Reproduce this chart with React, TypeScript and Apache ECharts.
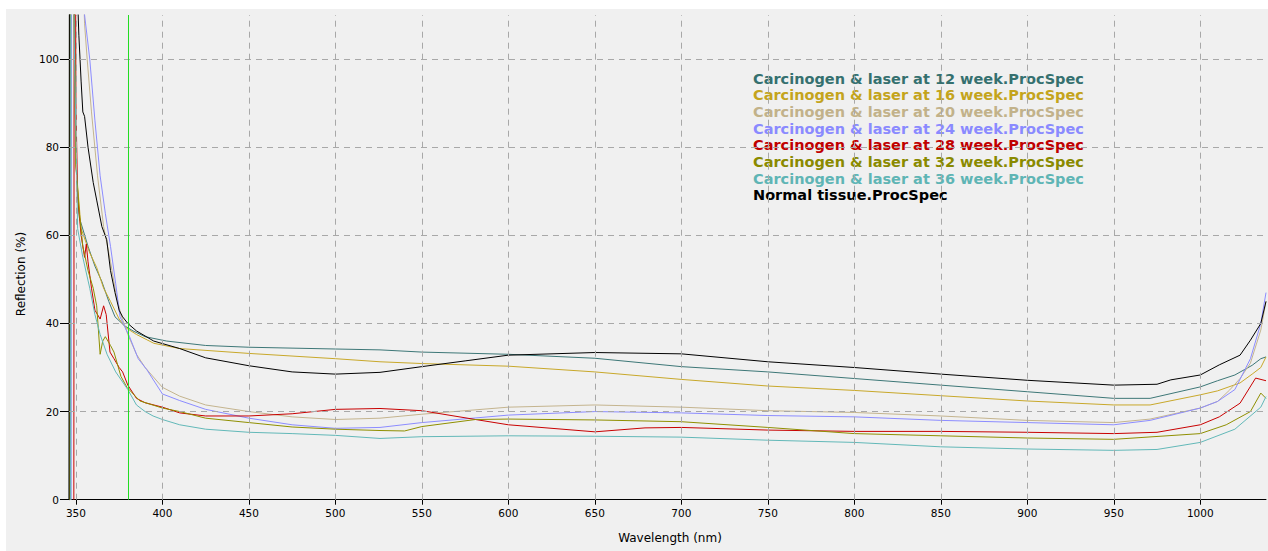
import React, { useEffect, useRef } from "react";
import * as echarts from "echarts";

const seriesNames = [
  "Carcinogen & laser at 12 week.ProcSpec",
  "Carcinogen & laser at 16 week.ProcSpec",
  "Carcinogen & laser at 20 week.ProcSpec",
  "Carcinogen & laser at 24 week.ProcSpec",
  "Carcinogen & laser at 28 week.ProcSpec",
  "Carcinogen & laser at 32 week.ProcSpec",
  "Carcinogen & laser at 36 week.ProcSpec",
  "Normal tissue.ProcSpec",
];
const lineColors = ["#3d7777", "#c8a82a", "#c4b48e", "#8c8cff", "#c80000", "#8f8f00", "#62b8b8", "#000000"];
const legendColors = ["#35706f", "#c4a41c", "#c2b28a", "#8a8aff", "#c00000", "#8a8a00", "#5fb5b5", "#000000"];

const xTicks = [350, 400, 450, 500, 550, 600, 650, 700, 750, 800, 850, 900, 950, 1000];
const yTicks = [0, 20, 40, 60, 80, 100];
const markerWavelength = 380;

const w12 = [[346.2,0],[346.6,220],[349,112],[350,76],[352,64],[357,57.5],[361,53],[365,49.5],[369,45],[372.6,41.5],[378,39.5],[383,38.3],[390,37],[402.5,36],[425,35],[450,34.6],[500,34.2],[525.8,34],[550,33.5],[600,33],[650,32.1],[700,30.2],[750,29],[800,27.5],[850,26],[900,24.5],[950,23],[971,23],[1000,25.6],[1010,27],[1020,28.3],[1030,30.5],[1035,32],[1038,32.4]];
const w16 = [[346.4,0],[346.8,220],[349,115],[350,76],[353,61.5],[358,56],[362,52.7],[366,48],[370,45],[375,41],[379,39],[385,37.5],[395,35.5],[410,34.3],[450,33.2],[500,32],[525.8,31.3],[550,30.9],[600,30.3],[650,29],[700,27.3],[750,25.8],[800,24.8],[850,23.6],[900,22.4],[950,21.5],[971,21.5],[1000,23.8],[1010,24.7],[1023,26.5],[1030,28.5],[1035,30],[1038,32.4]];
const w20 = [[347,0],[347.3,220],[352,150],[355,108],[356.5,100],[359,88],[362.5,73.5],[366,62],[370,54],[373,47],[376,42],[380,37.5],[385,33],[390,30],[400,25.5],[410,23.5],[425,21.5],[450,20],[475,18.8],[500,18.2],[525.8,18.5],[550,19.4],[600,21],[650,21.5],[700,21],[750,20.2],[800,19.8],[850,19],[900,18],[950,17.5],[971,18.3],[1000,20.8],[1010,22.3],[1017,24.9],[1023,27.5],[1029,31],[1035,38.5],[1038,45]];
const w24 = [[347.2,0],[347.5,220],[353,150],[355,110],[358,100],[361,86],[364,73.5],[367,65],[370,57.5],[373,49],[375.5,41.5],[381,37],[386,32],[391,29.5],[400,24],[410,22.5],[425,20.5],[450,18.5],[475,17],[500,16.2],[525.8,16.4],[550,17.5],[600,19.2],[650,20],[700,19.7],[750,19.1],[800,18.8],[850,18],[900,17.5],[950,17],[971,18],[1000,20.8],[1010,22.3],[1020,25],[1029,32],[1035,40],[1038,47]];
const w28 = [[348.8,0],[349.1,220],[350,90],[351,68.7],[353,60],[355,55],[356,58],[357,54],[359,48],[361,43],[364,41],[366,44],[367.5,42],[369.7,33.5],[372,32],[375,30],[377,29],[380,26],[385,23],[390,22],[400,21],[410,19.7],[425,19],[450,19],[475,19.5],[500,20.5],[525.8,20.7],[550,20.2],[581,18.2],[600,17],[650,15.4],[679,16.3],[700,16.4],[750,15.8],[800,15.5],[850,15.5],[900,15.3],[950,15],[975,15.3],[1000,17],[1011,18.8],[1023,21.9],[1032,27.6],[1038,27]];
const w32 = [[346.6,0],[347,220],[349,110],[350,76],[352,65],[354,57.5],[357,52],[360,48],[362,44],[364,33],[365.5,36],[367,37],[370,35],[372,33.5],[376,28],[379.5,25.5],[387,22.4],[400,20.8],[410,20],[425,18.5],[450,17.5],[475,16.5],[500,16],[525.8,15.7],[540,15.6],[550,16.6],[581,18.2],[600,18.3],[650,18.1],[700,17.7],[750,16.4],[800,15],[850,14.5],[900,14],[950,13.7],[1000,15],[1015,17],[1029,20],[1035,24.2],[1038,23]];
const w36 = [[346.9,0],[347.2,220],[349,105],[351,61.5],[354,55],[358,48],[361,42],[364,37.5],[368,33],[373,29],[380,25],[385,21.5],[390,20],[394.6,19],[400,18.2],[410,17],[425,16],[450,15.3],[475,15],[500,14.6],[525.8,13.9],[550,14.3],[600,14.5],[650,14.4],[700,14.2],[750,13.5],[800,13],[850,12],[900,11.5],[950,11.2],[975,11.4],[1000,13],[1020,16],[1035,21],[1038,23.4]];
const normal = [[346,0],[346.4,220],[350,125],[351.7,105.4],[353,95],[354,88],[355,87],[357,80],[360,72],[362,68],[365,62],[367.8,59],[370,52],[372.6,47],[375,43],[377,41.5],[380,40],[385,38.3],[395,36],[410,34.3],[425,32.2],[450,30.4],[475,29],[500,28.5],[525.8,28.9],[550,30.2],[575,31.5],[600,32.8],[650,33.4],[700,33.1],[750,31.3],[800,30],[850,28.5],[900,27.1],[950,26],[975,26.2],[983,27.2],[1000,28.3],[1011,30.6],[1023,32.8],[1029,36.2],[1035,40],[1038,45]];

const allData = [w12, w16, w20, w24, w28, w32, w36, normal];

export default function App() {
  const ref = useRef<HTMLDivElement>(null);
  useEffect(() => {
    if (!ref.current) return;
    const chart = echarts.init(ref.current, null, { renderer: "svg" });
    const font = "DejaVu Sans";
    chart.setOption({
      animation: false,
      backgroundColor: "#f0f0f0",
      textStyle: { fontFamily: font },
      grid: { left: 63, right: 2, top: 6, bottom: 51.3 },
      legend: {
        orient: "vertical",
        left: 737,
        top: 57,
        icon: "none",
        itemWidth: 0,
        itemHeight: 14,
        itemGap: 1.7,
        selectedMode: false,
        textStyle: { fontFamily: font, fontSize: 14.5, fontWeight: "bold" },
        data: seriesNames.map((n, i) => ({ name: n, textStyle: { color: legendColors[i] } })),
      },
      xAxis: {
        type: "value",
        min: 346,
        max: 1038,
        axisLine: { show: true, lineStyle: { color: "#000", width: 1 } },
        axisTick: { show: true, customValues: xTicks, length: 5, lineStyle: { color: "#000" } },
        axisLabel: {
          customValues: xTicks,
          fontSize: 10.5,
          color: "#000",
          margin: 8,
          fontFamily: font,
          formatter: (v: number) => String(v),
        },
        splitLine: { show: false },
      },
      yAxis: {
        type: "value",
        min: 0,
        max: 110,
        axisLine: { show: true, lineStyle: { color: "#000", width: 1 } },
        axisTick: { show: true, customValues: yTicks, length: 9, lineStyle: { color: "#000" } },
        axisLabel: {
          customValues: yTicks,
          fontSize: 10.5,
          color: "#000",
          margin: 10,
          fontFamily: font,
          formatter: (v: number) => String(v),
        },
        splitLine: { show: false },
      },
      graphic: [
        {
          type: "text",
          x: 15,
          y: 265,
          rotation: Math.PI / 2,
          style: {
            text: "Reflection (%)",
            fill: "#000",
            font: `12px "${font}"`,
            textAlign: "center",
            textVerticalAlign: "middle",
            align: "center",
            verticalAlign: "middle",
          },
        },
        {
          type: "text",
          x: 664,
          y: 529,
          style: {
            text: "Wavelength (nm)",
            fill: "#000",
            font: `12px "${font}"`,
            textAlign: "center",
            textVerticalAlign: "middle",
            align: "center",
            verticalAlign: "middle",
          },
        },
      ],
      series: [
        {
          name: "__grid",
          type: "line",
          data: [[350, -10]],
          showSymbol: false,
          symbol: "none",
          z: 1,
          silent: true,
          lineStyle: { opacity: 0 },
          markLine: {
            silent: true,
            symbol: ["none", "none"],
            label: { show: false },
            lineStyle: { type: [6, 5], color: "#a8a8a8", width: 1 },
            data: [
              ...xTicks.map((v) => ({ xAxis: v })),
              ...yTicks.filter((v) => v > 0).map((v) => ({ yAxis: v })),
            ],
          },
        },
        ...allData.map((d, i) => ({
          name: seriesNames[i],
          type: "line",
          data: d,
          showSymbol: false,
          symbol: "none",
          z: 3,
          color: lineColors[i],
          lineStyle: { width: 1, color: lineColors[i] },
        })),
        {
          name: "__marker",
          type: "line",
          data: [[350, -10]],
          showSymbol: false,
          symbol: "none",
          z: 4,
          silent: true,
          lineStyle: { opacity: 0 },
          markLine: {
            silent: true,
            symbol: ["none", "none"],
            label: { show: false },
            lineStyle: { type: "solid", color: "#22dd22", width: 1 },
            data: [{ xAxis: markerWavelength }],
          },
        },
      ],
    });
    return () => chart.dispose();
  }, []);
  return (
    <div
      ref={ref}
      style={{ position: "fixed", left: 6, top: 9, width: 1262, height: 542, background: "#f0f0f0" }}
    />
  );
}
